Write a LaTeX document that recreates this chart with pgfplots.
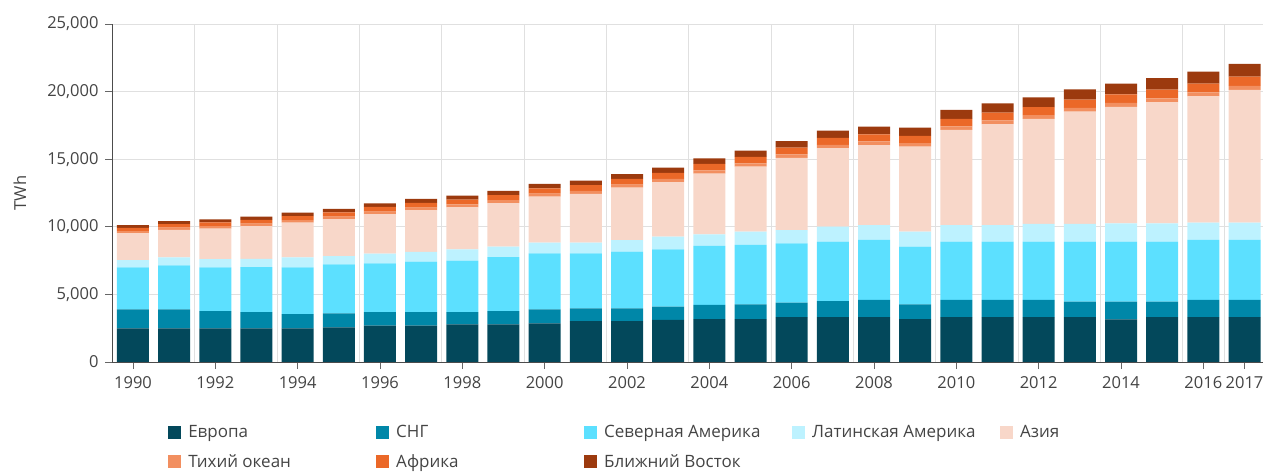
\documentclass[border=0pt]{standalone}
\usepackage{pgfplots}
\pgfplotsset{compat=1.18}
\usepackage{pgfplotstable}
\usepackage{fontspec}
\setmainfont{Open Sans}

\definecolor{cEU}{HTML}{03485B}
\definecolor{cCIS}{HTML}{0087A8}
\definecolor{cNA}{HTML}{5CE0FF}
\definecolor{cLA}{HTML}{BDF2FF}
\definecolor{cAS}{HTML}{F8D7C9}
\definecolor{cPA}{HTML}{F28F60}
\definecolor{cAF}{HTML}{EB6828}
\definecolor{cME}{HTML}{9C3A0E}
\definecolor{txt}{HTML}{444444}

\newcommand\legbox[1]{\hspace{5bp}\makebox[184bp][l]{#1}}

\pgfplotstableread{
year EU CIS NA LA AS PA AF ME
1990 2490 1410 3100 540 1970 170 240 210
1991 2490 1410 3250 590 2030 175 255 220
1992 2490 1280 3230 610 2260 180 270 230
1993 2490 1190 3330 610 2430 185 280 235
1994 2490 1060 3450 740 2560 190 300 250
1995 2570 1030 3630 610 2710 195 320 255
1996 2690 990 3620 710 2920 200 335 265
1997 2690 990 3740 720 3080 205 350 285
1998 2790 890 3820 830 3110 210 365 285
1999 2790 980 3990 770 3220 215 380 305
2000 2860 1040 4140 790 3400 220 400 320
2001 3030 940 4070 790 3610 225 415 330
2002 3030 940 4190 860 3870 230 430 350
2003 3110 980 4240 940 4040 235 450 375
2004 3180 1040 4360 860 4500 240 470 410
2005 3180 1090 4390 980 4810 245 485 450
2006 3310 1080 4390 980 5340 250 500 490
2007 3310 1200 4390 1110 5800 255 520 525
2008 3310 1280 4440 1090 5930 260 530 570
2009 3180 1090 4260 1110 6290 260 535 605
2010 3310 1280 4310 1230 7030 270 560 650
2011 3310 1280 4310 1230 7460 275 580 685
2012 3310 1280 4310 1310 7770 280 600 720
2013 3310 1150 4440 1310 8300 285 615 760
2014 3160 1300 4440 1360 8610 290 630 800
2015 3310 1150 4440 1360 8950 290 645 845
2016 3310 1280 4440 1280 9330 295 660 885
2017 3310 1280 4440 1280 9820 300 680 940
}\data

\begin{document}
\begin{tikzpicture}
\useasboundingbox (0,0) rectangle (1263bp,473bp);
\begin{axis}[
  at={(112bp,111bp)}, anchor=south west, scale only axis,
  width=1151bp, height=338bp,
  ybar stacked, bar width=32bp,
  xmin=1989.49, xmax=2017.45, ymin=0, ymax=25000,
  ytick={0,5000,10000,15000,20000,25000},
  scaled y ticks=false,
  xtick={1990,1992,1994,1996,1998,2000,2002,2004,2006,2008,2010,2012,2014,2016,2017},
  minor xtick={1991.5,1993.5,1995.5,1997.5,1999.5,2001.5,2003.5,2005.5,2007.5,2009.5,2011.5,2013.5,2015.5,2016.5},
  xminorgrids, ymajorgrids,
  minor grid style={draw=black!12, line width=0.8bp},
  major grid style={draw=black!12, line width=0.8bp},
  minor tick length=0pt,
  axis x line*=bottom, axis y line*=left,
  axis line style={draw=black!70, -, line width=1bp},
  tick align=outside, major tick length=7bp,
  tick style={draw=black!60, line width=0.8bp},
  x tick label style={/pgf/number format/1000 sep={}, yshift=-4bp},
  y tick label style={/pgf/number format/1000 sep={,}, xshift=-3bp},
  /pgf/number format/assume math mode=true,
  ticklabel style={font=\fontsize{16.5bp}{18bp}\selectfont, text=txt},
  ylabel={TWh},
  ylabel style={at={(axis description cs:-0.08,0.5)}, anchor=center, font=\fontsize{16.5bp}{18bp}\selectfont, text=txt},
  legend columns=5,
  legend style={at={(axis description cs:0.0487,-0.181)}, anchor=north west,
    draw=none, fill=none, inner sep=0pt,
    font=\fontsize{17bp}{19bp}\selectfont, text=txt,
    /tikz/every even column/.append style={column sep=2bp},
    row sep=11bp},
  legend cell align=left,
  legend image code/.code={\fill[#1] (0bp,-6.5bp) rectangle (13bp,6.5bp);},
]
\addplot[fill=cEU, draw=none] table[x=year,y=EU]{\data}; \addlegendentry{\legbox{Европа}}
\addplot[fill=cCIS, draw=none] table[x=year,y=CIS]{\data}; \addlegendentry{\legbox{СНГ}}
\addplot[fill=cNA, draw=none] table[x=year,y=NA]{\data}; \addlegendentry{\legbox{Северная Америка}}
\addplot[fill=cLA, draw=none] table[x=year,y=LA]{\data}; \addlegendentry{\legbox{Латинская Америка}}
\addplot[fill=cAS, draw=none] table[x=year,y=AS]{\data}; \addlegendentry{\hspace{5bp}Азия}
\addplot[fill=cPA, draw=none] table[x=year,y=PA]{\data}; \addlegendentry{\legbox{Тихий океан}}
\addplot[fill=cAF, draw=none] table[x=year,y=AF]{\data}; \addlegendentry{\legbox{Африка}}
\addplot[fill=cME, draw=none] table[x=year,y=ME]{\data}; \addlegendentry{\legbox{Ближний Восток}}
\end{axis}
\end{tikzpicture}
\end{document}
